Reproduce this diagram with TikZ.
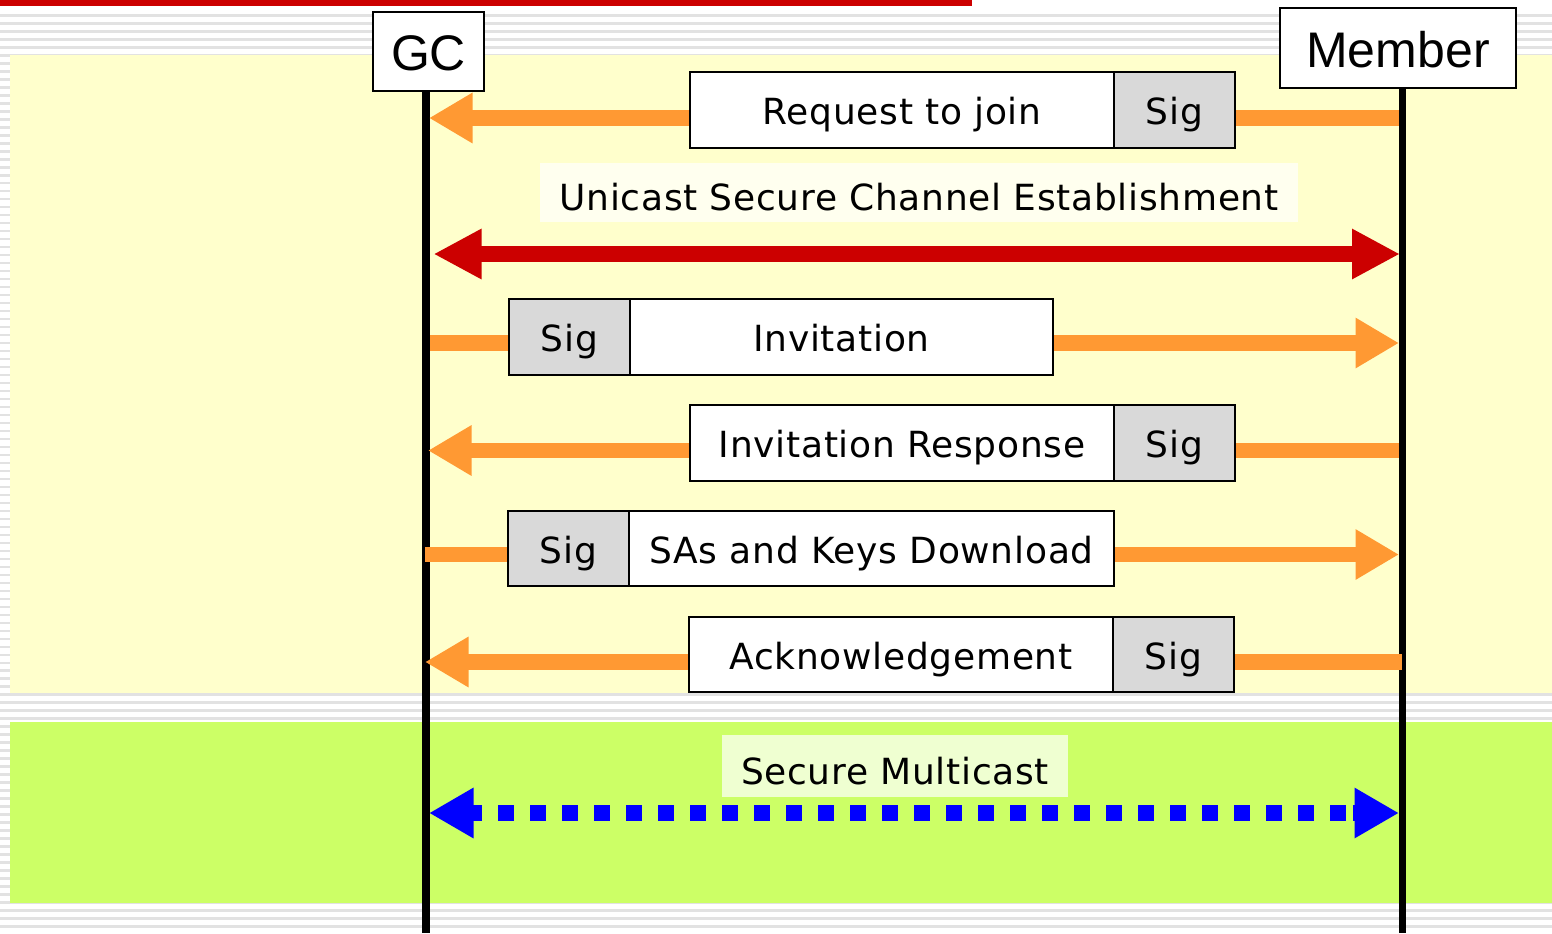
\documentclass[tikz,border=0pt]{standalone}
\usepackage{fontspec}
\usetikzlibrary{arrows.meta}
\newfontfamily\msgfont[LetterSpace=2]{DejaVu Sans}
\newfontfamily\hdrfont{Liberation Sans}
\definecolor{slidered}{HTML}{CC0000}
\definecolor{paleyellow}{HTML}{FFFFCC}
\definecolor{limegreen}{HTML}{CCFF66}
\definecolor{sigorange}{HTML}{FF9933}
\definecolor{siggray}{HTML}{D9D9D9}
\definecolor{stripegray}{HTML}{E2E2E2}
\definecolor{dotblue}{HTML}{0000FF}
\pgfdeclarelayer{backdrop}
\pgfdeclarelayer{wires}
\pgfsetlayers{backdrop,wires,main}

\begin{document}
\begin{tikzpicture}[x=0.5pt,y=-0.5pt,
  actor/.style={draw=black, line width=1pt, fill=white, inner sep=0pt,
    font=\hdrfont\fontsize{25}{30}\selectfont, text height=19.4pt, text depth=0pt},
  msgbox/.style={draw=black, line width=0.85pt, fill=white, inner sep=0pt,
    font=\msgfont\fontsize{18}{21}\selectfont, text height=14.6pt, text depth=0pt},
  sigbox/.style={msgbox, fill=siggray, minimum width=60.5pt},
  tagbox/.style={fill=white, fill opacity=0.7, text opacity=1, inner sep=0pt,
    font=\msgfont\fontsize{18}{21}\selectfont, text height=18.1pt, text depth=0pt},
  lifeline/.style={black, line width=3.9pt},
  flow/.style={sigorange, line width=7.75pt},
  flowtip/.style={flow, -{Triangle[length=21.75pt,width=23.75pt]}},
  unicast/.style={slidered, line width=8pt,
    {Triangle[length=24pt,width=23.5pt]}-{Triangle[length=24pt,width=23.5pt]}},
  mcastdots/.style={dotblue, line width=8pt, dash pattern=on 8pt off 8pt},
  mcasttip/.style={dotblue, line width=8pt, -{Triangle[length=22.25pt,width=23.7pt]}}
]
\useasboundingbox (0,0) rectangle (1552,933);

% slide backdrop: striped page, title rule and the two coloured bands
\begin{pgfonlayer}{backdrop}
  \fill[white] (0,0) rectangle (1552,933);
  \foreach \k in {0,...,114}
    \draw[stripegray, line width=1.2pt] (0,{15.5+7.99*\k}) -- (1552,{15.5+7.99*\k});
  \fill[slidered] (0,0) rectangle (972,6);
  \fill[paleyellow] (10,55) rectangle (1552,693);
  \fill[limegreen] (10,722) rectangle (1552,903);
\end{pgfonlayer}

% participants
\node[actor, minimum width=55.5pt, minimum height=39.5pt] (gc) at (428.5,51.5) {GC};
\node[actor, minimum width=118pt, minimum height=40pt] (member) at (1398,48) {Member};
\coordinate (gcEnd) at (426,933);
\coordinate (mbEnd) at (1402.5,933);

% end points of the exchanges on both lifelines
\coordinate (g1) at (429,118);    \coordinate (m1) at (1398.5,118);
\coordinate (g2) at (433.5,254);  \coordinate (m2) at (1400,254);
\coordinate (g3) at (430,343);    \coordinate (m3) at (1399,343);
\coordinate (g4) at (428,450.5);  \coordinate (m4) at (1398.5,450.5);
\coordinate (g5) at (425,554.5);  \coordinate (m5) at (1399,554.5);
\coordinate (g6) at (425,662);    \coordinate (m6) at (1402,662);
\coordinate (g7) at (429,813);    \coordinate (m7) at (1399,813);

% messages
\node[msgbox, minimum width=212pt, minimum height=38pt] (req) at (902,110) {Request to join};
\node[sigbox, minimum height=38pt] (sigReq) at (1174.5,110) {Sig};

\node[tagbox, minimum width=379pt, minimum height=29.5pt] (uscTag) at (919,192.5)
  {Unicast Secure Channel Establishment};

\node[sigbox, minimum height=38pt] (sigInv) at (569.5,337) {Sig};
\node[msgbox, minimum width=211.5pt, minimum height=38pt] (inv) at (841.5,337) {Invitation};

\node[msgbox, minimum width=212pt, minimum height=38pt] (resp) at (902,443) {Invitation Response};
\node[sigbox, minimum height=38pt] (sigResp) at (1174.5,443) {Sig};

\node[sigbox, minimum height=37.5pt] (sigKeys) at (568.5,548.5) {Sig};
\node[msgbox, minimum width=242.5pt, minimum height=37.5pt] (keys) at (871.5,548.5) {SAs and Keys Download};

\node[msgbox, minimum width=212pt, minimum height=37.5pt] (ack) at (901,654.5) {Acknowledgement};
\node[sigbox, minimum height=37.5pt] (sigAck) at (1173.5,654.5) {Sig};

\node[tagbox, minimum width=173pt, minimum height=31pt] (mcTag) at (895,766) {Secure Multicast};

\begin{pgfonlayer}{wires}
  % lifelines
  \draw[lifeline] (gc.south -| gcEnd) -- (gcEnd);
  \draw[lifeline] (member.south -| mbEnd) -- (mbEnd);

  % join request
  \draw[flowtip] (req.west |- g1) -- (g1);
  \draw[flow] (m1) -- (sigReq.east |- m1);
  % unicast secure channel
  \draw[unicast] (g2) -- (m2);
  % invitation
  \draw[flow] (g3) -- (sigInv.west |- g3);
  \draw[flowtip] (inv.east |- m3) -- (m3);
  % invitation response
  \draw[flowtip] (resp.west |- g4) -- (g4);
  \draw[flow] (m4) -- (sigResp.east |- m4);
  % SAs and keys download
  \draw[flow] (g5) -- (sigKeys.west |- g5);
  \draw[flowtip] (keys.east |- m5) -- (m5);
  % acknowledgement
  \draw[flowtip] (ack.west |- g6) -- (g6);
  \draw[flow] (m6) -- (sigAck.east |- m6);
  % secure multicast
  \draw[mcastdots] ([xshift=18.5pt]g7) -- ([xshift=-18.5pt]m7);
  \draw[mcasttip] ([xshift=23pt]g7) -- (g7);
  \draw[mcasttip] ([xshift=-23pt]m7) -- (m7);
\end{pgfonlayer}
\end{tikzpicture}
\end{document}
